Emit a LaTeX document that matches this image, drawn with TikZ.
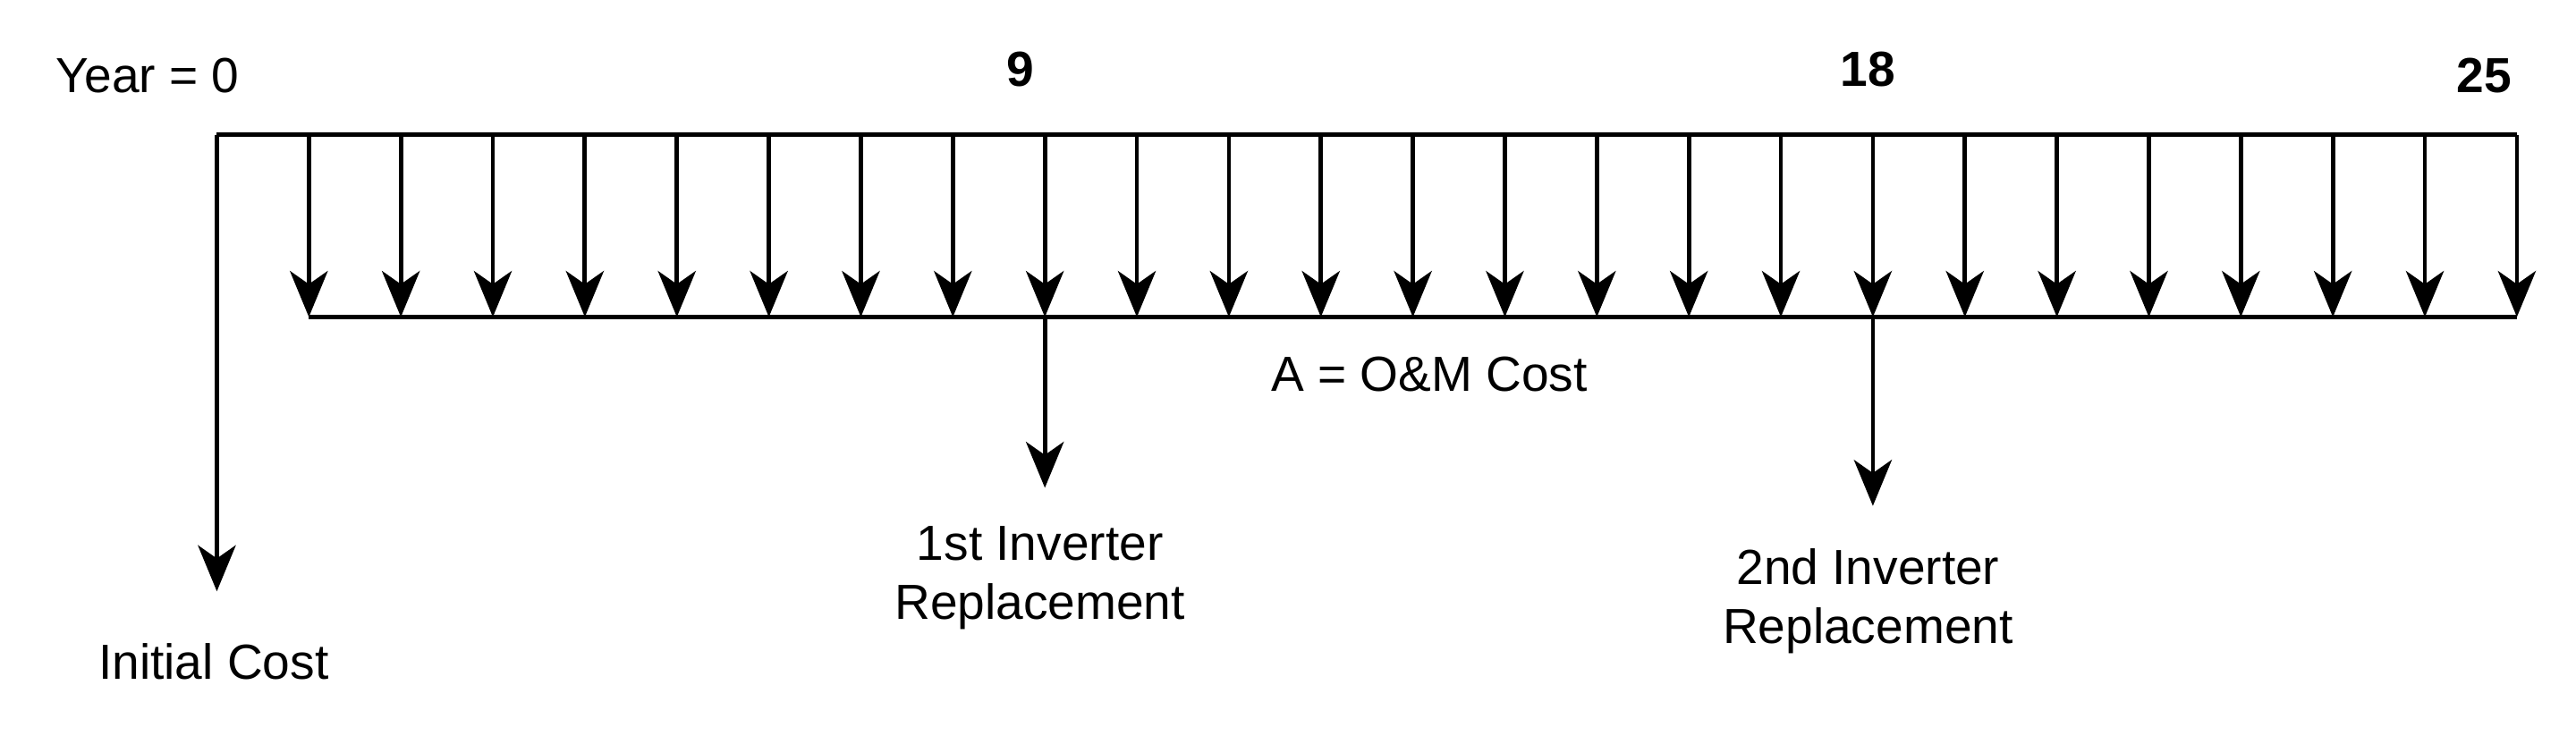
\documentclass[tikz,border=0pt]{standalone}
\usepackage{fontspec}
\setmainfont{Liberation Sans}
\usetikzlibrary{arrows.meta}
\begin{document}
\begin{tikzpicture}[x=0.5pt,y=-0.5pt,
  ln/.style={line width=1.3pt},
  arr/.style={ln,-{Stealth[length=14pt,width=11.5pt,inset=4pt]}},
  lbl/.style={font=\fontsize{15}{18}\selectfont,align=center,inner sep=0pt},
  yr/.style={lbl,font=\fontsize{15}{18}\selectfont\bfseries}]
\useasboundingbox (0,0) rectangle (1568,448);
\foreach \k in {0,...,25}{
  \coordinate (t\k) at ({132+56*\k},82);
  \coordinate (b\k) at ({132+56*\k},193);
}
\coordinate (ic) at (132,360);
\coordinate (r1) at (636,297);
\coordinate (r2) at (1140,308);
\draw[ln] (t0) -- (t25);
\draw[ln] (b1) -- (b25);
\draw[arr] (t0) -- (ic);
\foreach \k in {1,...,25}{ \draw[arr] (t\k) -- (b\k); }
\draw[arr] (b9) -- (r1);
\draw[arr] (b18) -- (r2);
\node[lbl] (y0) at (90,46) {Year = 0};
\node[yr] (y9) at (621,42) {9};
\node[yr] (y18) at (1137,42) {18};
\node[yr] (y25) at (1512,46) {25};
\node[lbl] (om) at (870,228) {A = O\&M Cost};
\node[lbl] (icl) at (130,403) {Initial Cost};
\node[lbl] (r1l) at (633,352) {1st Inverter\\Replacement};
\node[lbl] (r2l) at (1137,366) {2nd Inverter\\Replacement};
\end{tikzpicture}
\end{document}
